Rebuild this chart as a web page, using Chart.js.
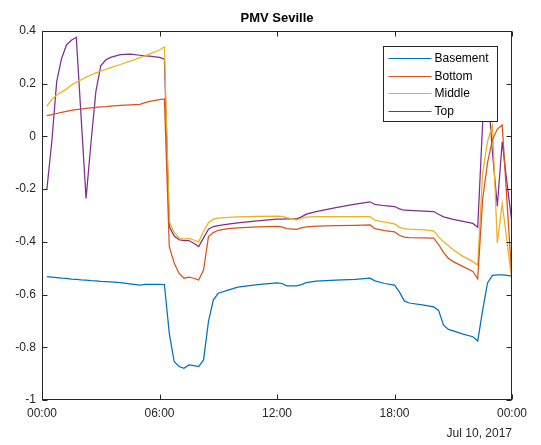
<!DOCTYPE html>
<html>
<head>
<meta charset="utf-8">
<script src="https://cdn.jsdelivr.net/npm/chart.js@4/dist/chart.umd.min.js"></script>
<style>
  html, body { margin: 0; padding: 0; background: #fff; }
  #wrap { width: 541px; height: 445px; }
</style>
</head>
<body>
<div id="wrap"><canvas id="pmv" width="541" height="445"></canvas></div>
<script>
// Hours after midnight (Jul 10, 2017)
const hours = [
  0.25, 0.5, 0.75, 1, 1.25, 1.5, 1.75, 2, 2.25, 2.5, 2.75, 3,
  3.25, 3.5, 4, 4.5, 5, 5.25, 5.5, 6, 6.25, 6.5, 6.75, 7,
  7.25, 7.5, 7.75, 8, 8.25, 8.5, 8.75, 9, 9.5, 10, 11, 12,
  12.25, 12.5, 13, 13.25, 13.5, 14, 15, 16, 16.75, 17, 17.5, 18,
  18.25, 18.5, 18.75, 19.5, 20, 20.25, 20.5, 20.75, 21, 21.5, 22, 22.25,
  22.5, 22.75, 23, 23.25, 23.5, 23.75, 24
];

const seriesNames = ['Basement', 'Bottom', 'Middle', 'Top'];

const basementPmv = [
  -0.532, -0.534, -0.536, -0.538, -0.539, -0.541, -0.542, -0.544, -0.545, -0.547, -0.548, -0.550,
  -0.551, -0.552, -0.555, -0.559, -0.564, -0.561, -0.561, -0.561, -0.562, -0.747, -0.855, -0.873,
  -0.880, -0.867, -0.870, -0.873, -0.848, -0.703, -0.620, -0.595, -0.583, -0.572, -0.562, -0.556,
  -0.558, -0.567, -0.567, -0.562, -0.555, -0.549, -0.545, -0.542, -0.538, -0.548, -0.558, -0.564,
  -0.590, -0.624, -0.632, -0.640, -0.647, -0.660, -0.715, -0.732, -0.738, -0.750, -0.760, -0.776,
  -0.660, -0.556, -0.527, -0.525, -0.525, -0.527, -0.530
];

const bottomPmv = [
  0.079, 0.083, 0.087, 0.091, 0.095, 0.099, 0.102, 0.104, 0.106, 0.108, 0.110, 0.112,
  0.113, 0.115, 0.118, 0.120, 0.122, 0.128, 0.133, 0.140, 0.142, -0.418, -0.480, -0.520,
  -0.538, -0.534, -0.538, -0.545, -0.507, -0.380, -0.365, -0.356, -0.350, -0.347, -0.343, -0.341,
  -0.343, -0.350, -0.353, -0.347, -0.343, -0.340, -0.338, -0.337, -0.336, -0.350, -0.357, -0.362,
  -0.375, -0.382, -0.384, -0.385, -0.386, -0.410, -0.440, -0.462, -0.475, -0.494, -0.512, -0.540,
  -0.240, -0.100, -0.013, 0.028, 0.043, -0.255, -0.540
];

const middlePmv = [
  0.115, 0.140, 0.157, 0.168, 0.180, 0.195, 0.205, 0.215, 0.225, 0.233, 0.241, 0.248,
  0.254, 0.261, 0.273, 0.286, 0.299, 0.306, 0.313, 0.328, 0.340, -0.323, -0.365, -0.385,
  -0.390, -0.387, -0.393, -0.400, -0.360, -0.327, -0.314, -0.310, -0.307, -0.305, -0.303, -0.302,
  -0.303, -0.308, -0.317, -0.310, -0.306, -0.304, -0.304, -0.304, -0.304, -0.318, -0.325, -0.332,
  -0.345, -0.350, -0.352, -0.355, -0.358, -0.380, -0.400, -0.415, -0.430, -0.455, -0.475, -0.488,
  -0.140, -0.020, 0.043, -0.405, -0.255, -0.400, -0.550
];

const topPmv = [
  -0.200, -0.020, 0.208, 0.296, 0.347, 0.365, 0.376, 0.070, -0.235, -0.025, 0.170, 0.268,
  0.290, 0.300, 0.310, 0.312, 0.308, 0.306, 0.305, 0.300, 0.293, -0.342, -0.378, -0.392,
  -0.395, -0.395, -0.405, -0.418, -0.385, -0.352, -0.342, -0.338, -0.333, -0.328, -0.320, -0.314,
  -0.314, -0.313, -0.313, -0.305, -0.295, -0.285, -0.270, -0.257, -0.248, -0.258, -0.263, -0.266,
  -0.275, -0.280, -0.281, -0.283, -0.285, -0.295, -0.305, -0.310, -0.315, -0.322, -0.330, -0.345,
  0.050, 0.200, -0.060, -0.265, -0.020, -0.180, -0.330
];

const xTicks = [0, 6, 12, 18, 24];
const yTicks = [-1, -0.8, -0.6, -0.4, -0.2, 0, 0.2, 0.4];
const dateLabel = 'Jul 10, 2017';
const chartTitle = 'PMV Seville';

// MATLAB default line colours
const colors = ['#0072BD', '#D95319', '#EDB120', '#7E2F8E'];
const axisColor = '#262626';
const fontFamily = '"Liberation Sans", Arial, Helvetica, sans-serif';

const toPoints = (vals) => hours.map((h, i) => ({ x: h, y: vals[i] }));

const datasets = [basementPmv, bottomPmv, middlePmv, topPmv].map((vals, i) => ({
  label: seriesNames[i],
  data: toPoints(vals),
  borderColor: colors[i],
  backgroundColor: colors[i],
  borderWidth: 1.25,
  pointRadius: 0,
  tension: 0,
  fill: false,
}));

// Box around the axes, inward ticks, title and legend (MATLAB look)
const matlabFrame = {
  id: 'matlabFrame',
  afterDraw(chart) {
    const { ctx, chartArea: a, scales } = chart;
    const L = Math.round(a.left) + 0.5;
    const R = Math.round(a.right) - 0.5;
    const T = Math.round(a.top) + 0.5;
    const B = Math.round(a.bottom) - 0.5;
    const tick = 5;

    ctx.save();
    ctx.strokeStyle = axisColor;
    ctx.lineWidth = 1;
    ctx.strokeRect(L, T, R - L, B - T);

    ctx.beginPath();
    xTicks.forEach((v) => {
      const px = Math.round(scales.x.getPixelForValue(v)) + 0.5;
      ctx.moveTo(px, B); ctx.lineTo(px, B - tick);
      ctx.moveTo(px, T); ctx.lineTo(px, T + tick);
    });
    yTicks.forEach((v) => {
      const py = Math.round(scales.y.getPixelForValue(v)) + 0.5;
      ctx.moveTo(L, py); ctx.lineTo(L + tick, py);
      ctx.moveTo(R, py); ctx.lineTo(R - tick, py);
    });
    ctx.stroke();

    // Title
    ctx.fillStyle = '#000';
    ctx.font = 'bold 13px ' + fontFamily;
    ctx.textAlign = 'center';
    ctx.textBaseline = 'middle';
    ctx.fillText(chartTitle, (a.left + a.right) / 2, 18);

    // Legend box
    const w = 114, h = 75;
    const lx = Math.round(a.right - 15 - w) + 0.5;
    const ly = Math.round(a.top + 15) + 0.5;
    ctx.fillStyle = '#fff';
    ctx.fillRect(lx, ly, w, h);
    ctx.strokeStyle = axisColor;
    ctx.strokeRect(lx, ly, w, h);

    ctx.font = '12px ' + fontFamily;
    ctx.textAlign = 'left';
    chart.data.datasets.forEach((ds, i) => {
      const cy = Math.round(ly + 11.5 + i * 17.7) + 0.5;
      ctx.strokeStyle = ds.borderColor;
      ctx.beginPath();
      ctx.moveTo(lx + 5, cy);
      ctx.lineTo(lx + 48, cy);
      ctx.stroke();
      ctx.fillStyle = '#000';
      ctx.fillText(ds.label, lx + 51, cy);
    });
    ctx.restore();
  },
};

new Chart(document.getElementById('pmv'), {
  type: 'line',
  data: { datasets },
  options: {
    responsive: false,
    animation: false,
    layout: { padding: { top: 31, right: 29, left: 0, bottom: 0 } },
    plugins: {
      legend: { display: false },
      title: { display: false },
      tooltip: { enabled: false },
    },
    scales: {
      x: {
        type: 'linear',
        min: 0,
        max: 24,
        afterFit: (s) => { s.height = 45; },
        afterBuildTicks: (s) => { s.ticks = xTicks.map((v) => ({ value: v })); },
        grid: { display: false, drawTicks: false },
        border: { display: false },
        ticks: {
          padding: 6,
          maxRotation: 0,
          color: axisColor,
          font: { family: fontFamily, size: 12 },
          callback: (v) => String(v % 24).padStart(2, '0') + ':00',
        },
        title: {
          display: true,
          text: dateLabel,
          align: 'end',
          color: axisColor,
          font: { family: fontFamily, size: 12 },
          padding: { top: 2, bottom: 4 },
        },
      },
      y: {
        min: -1,
        max: 0.4,
        afterFit: (s) => { s.width = 42; },
        afterBuildTicks: (s) => { s.ticks = yTicks.map((v) => ({ value: v })); },
        grid: { display: false, drawTicks: false },
        border: { display: false },
        ticks: {
          padding: 6,
          color: axisColor,
          font: { family: fontFamily, size: 12 },
          callback: (v) => String(+v.toFixed(1)),
        },
      },
    },
  },
  plugins: [matlabFrame],
});
</script>
</body>
</html>
